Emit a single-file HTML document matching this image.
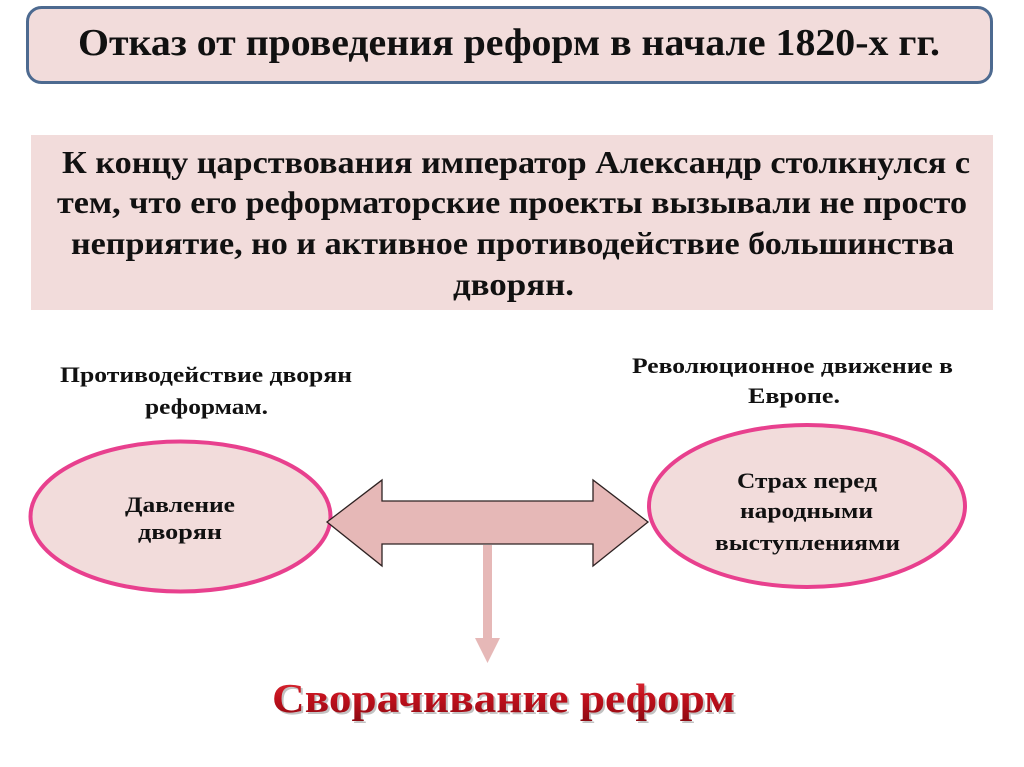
<!DOCTYPE html>
<html>
<head>
<meta charset="utf-8">
<style>
html,body{margin:0;padding:0;background:#fff;}
body{width:1024px;height:767px;overflow:hidden;}
svg{display:block;}
text{font-family:"Liberation Serif","Noto Serif CJK SC",serif;font-weight:bold;fill:#111;}
</style>
</head>
<body>
<svg width="1024" height="767" viewBox="0 0 1024 767" xmlns="http://www.w3.org/2000/svg">
  <defs>
    <linearGradient id="rg" x1="0" y1="0" x2="0" y2="1">
      <stop offset="0" stop-color="#e0303a"/>
      <stop offset="0.5" stop-color="#c0101c"/>
      <stop offset="1" stop-color="#8e0a12"/>
    </linearGradient>
  </defs>
  <rect x="0" y="0" width="1024" height="767" fill="#fff"/>

  <!-- Title box -->
  <rect x="27.5" y="7.5" width="964" height="75" rx="14" ry="14" fill="#f2dcdb" stroke="#4d6a90" stroke-width="3"/>
  <text x="509" y="55" font-size="38" text-anchor="middle" textLength="862" lengthAdjust="spacingAndGlyphs">Отказ от проведения реформ в начале 1820-х гг.</text>

  <!-- Paragraph box -->
  <rect x="31" y="135" width="962" height="175" fill="#f2dcdb"/>
  <text x="62" y="173" font-size="32" textLength="908" lengthAdjust="spacingAndGlyphs">К концу царствования император Александр столкнулся с</text>
  <text x="57" y="213" font-size="32" textLength="910" lengthAdjust="spacingAndGlyphs">тем, что его реформаторские проекты вызывали не просто</text>
  <text x="71" y="254" font-size="32" textLength="883" lengthAdjust="spacingAndGlyphs">неприятие, но и активное противодействие большинства</text>
  <text x="453" y="295" font-size="32" textLength="121" lengthAdjust="spacingAndGlyphs">дворян.</text>

  <!-- Left label -->
  <text x="60" y="382" font-size="22" textLength="292" lengthAdjust="spacingAndGlyphs">Противодействие дворян</text>
  <text x="145" y="414" font-size="22" textLength="123" lengthAdjust="spacingAndGlyphs">реформам.</text>

  <!-- Right label -->
  <text x="632" y="373" font-size="22" textLength="321" lengthAdjust="spacingAndGlyphs">Революционное движение в</text>
  <text x="748" y="403" font-size="22" textLength="92" lengthAdjust="spacingAndGlyphs">Европе.</text>

  <!-- Ellipses -->
  <ellipse cx="180.5" cy="516.5" rx="150" ry="75" fill="#f2dcdb" stroke="#e8408e" stroke-width="4"/>
  <ellipse cx="807" cy="506" rx="158" ry="81" fill="#f2dcdb" stroke="#e8408e" stroke-width="4"/>

  <text x="125" y="512" font-size="22" textLength="110" lengthAdjust="spacingAndGlyphs">Давление</text>
  <text x="138" y="539" font-size="22" textLength="84" lengthAdjust="spacingAndGlyphs">дворян</text>

  <text x="737" y="488" font-size="22" textLength="140" lengthAdjust="spacingAndGlyphs">Страх перед</text>
  <text x="740" y="518" font-size="22" textLength="133" lengthAdjust="spacingAndGlyphs">народными</text>
  <text x="715" y="550" font-size="22" textLength="185" lengthAdjust="spacingAndGlyphs">выступлениями</text>

  <!-- Double arrow -->
  <polygon points="327,522 382,480 382,501 593,501 593,480 648,522 593,566 593,544 382,544 382,566"
           fill="#e6b8b7" stroke="#2e2222" stroke-width="1.3" stroke-linejoin="miter"/>

  <!-- Down arrow -->
  <rect x="483" y="545" width="9" height="94" fill="#e6b8b7"/>
  <polygon points="475,638 500,638 487.5,663" fill="#e6b8b7"/>

  <!-- Bottom text -->
  <text x="274" y="714" font-size="41" textLength="463" lengthAdjust="spacingAndGlyphs" style="fill:#9a9a9a;opacity:0.6">Сворачивание реформ</text>
  <text x="272" y="712" font-size="41" textLength="463" lengthAdjust="spacingAndGlyphs" style="fill:url(#rg)">Сворачивание реформ</text>
</svg>
</body>
</html>
